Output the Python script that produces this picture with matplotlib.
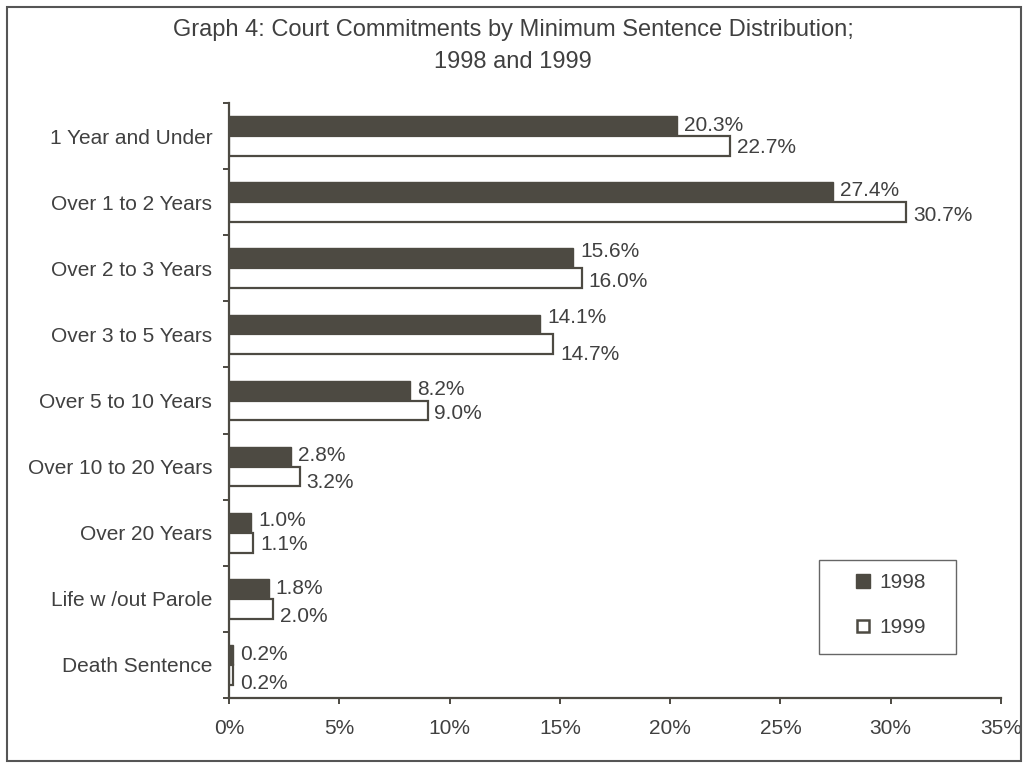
import matplotlib
matplotlib.use("Agg")
import matplotlib.pyplot as plt
from matplotlib.patches import Rectangle
from matplotlib.lines import Line2D
import numpy as np

plt.rcParams['font.family'] = ['Liberation Sans', 'DejaVu Sans']

categories = ["1 Year and Under", "Over 1 to 2 Years", "Over 2 to 3 Years",
              "Over 3 to 5 Years", "Over 5 to 10 Years", "Over 10 to 20 Years",
              "Over 20 Years", "Life w /out Parole", "Death Sentence"]
values_1998 = [20.3, 27.4, 15.6, 14.1, 8.2, 2.8, 1.0, 1.8, 0.2]
values_1999 = [22.7, 30.7, 16.0, 14.7, 9.0, 3.2, 1.1, 2.0, 0.2]
series_names = ["1998", "1999"]
xticks = [0, 5, 10, 15, 20, 25, 30, 35]

# vertical nudges of the value labels (pixels, downward), as placed in the original
label_nudge_1998 = [-1, -2, -7, -7, -1, -1, -2, 0, -1]
label_nudge_1999 = [2, 3, 3, 10, 3, 6, 2, 8, 9]

dark = "#4d4a42"
txt = "#404040"
W, H = 1026, 765
FS = 15

fig = plt.figure(figsize=(W / 100, H / 100), dpi=100)
fig.patches.append(Rectangle((7 / W, 4 / H), 1014 / W, 754 / H, transform=fig.transFigure,
                             fill=False, edgecolor="#555555", linewidth=1.5))
ax = fig.add_axes([229 / W, 1 - 698 / H, 772 / W, 595 / H])

n = len(categories)
pos = np.arange(n)
h = 0.30
ax.barh(pos - h / 2, values_1998, height=h, color=dark, edgecolor=dark, linewidth=1)
ax.barh(pos + h / 2, values_1999, height=h, color="white", edgecolor=dark, linewidth=1.6)

for i in range(n):
    ax.annotate(f"{values_1998[i]:.1f}%", (values_1998[i], pos[i] - h / 2),
                xytext=(5, -label_nudge_1998[i] * 0.72), textcoords="offset points",
                va="center", ha="left", fontsize=FS, color=txt)
    ax.annotate(f"{values_1999[i]:.1f}%", (values_1999[i], pos[i] + h / 2),
                xytext=(5, -label_nudge_1999[i] * 0.72), textcoords="offset points",
                va="center", ha="left", fontsize=FS, color=txt)

ax.set_ylim(n - 0.5, -0.5)
ax.set_xlim(0, 35)
ax.set_xticks(xticks)
ax.set_xticklabels([f"{x}%" for x in xticks], fontsize=FS, color=txt)
ax.set_yticks(np.arange(n + 1) - 0.5)
ax.set_yticklabels([])
ax.set_yticks(pos, minor=True)
ax.set_yticklabels(categories, minor=True, fontsize=FS, color=txt)
ax.tick_params(axis="y", which="minor", length=0, pad=12)
ax.tick_params(axis="y", which="major", length=4, width=1.4, color=dark, direction="out")
ax.tick_params(axis="x", length=4, width=1.4, color=dark, direction="out", pad=11)
for s in ["top", "right"]:
    ax.spines[s].set_visible(False)
for s in ["left", "bottom"]:
    ax.spines[s].set_color(dark)
    ax.spines[s].set_linewidth(1.6)

fig.text(0.5, 1 - 30 / H, "Graph 4: Court Commitments by Minimum Sentence Distribution;",
         ha="center", va="center", fontsize=17, color=txt)
fig.text(0.5, 1 - 62 / H, "1998 and 1999", ha="center", va="center", fontsize=17, color=txt)

# legend frame
fig.patches.append(Rectangle((819 / W, 1 - 654 / H), 137 / W, 94 / H, transform=fig.transFigure,
                             fill=False, edgecolor="#666666", linewidth=1.0))
handles = [Line2D([], [], marker="s", linestyle="none", markersize=10, markerfacecolor=dark,
                  markeredgecolor=dark),
           Line2D([], [], marker="s", linestyle="none", markersize=9, markerfacecolor="white",
                  markeredgecolor=dark, markeredgewidth=1.8)]
leg = ax.legend(handles, series_names, loc="center", bbox_to_anchor=(889 / W, 1 - 605 / H),
                bbox_transform=fig.transFigure, frameon=False, fontsize=FS,
                labelspacing=1.25, handletextpad=0.3, borderaxespad=0, handlelength=1.0)
for t in leg.get_texts():
    t.set_color(txt)

fig.savefig("out.png", dpi=100)
